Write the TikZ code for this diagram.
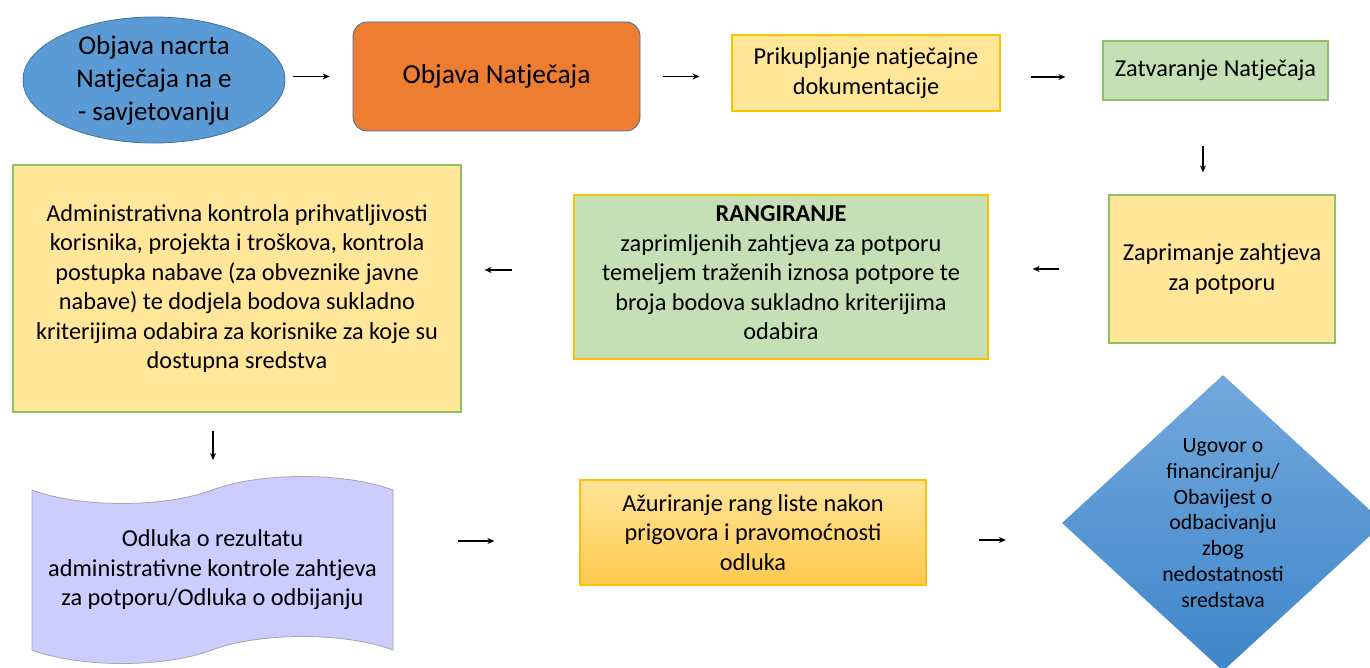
\documentclass[tikz,border=0pt]{standalone}
\usepackage{fontspec}
\setmainfont{Carlito}
\usetikzlibrary{shapes.geometric,arrows.meta,calc}
\definecolor{cblue}{HTML}{5B9BD5}
\definecolor{cblueb}{HTML}{41719C}
\definecolor{corange}{HTML}{ED7D31}
\definecolor{cyellow}{HTML}{FFE699}
\definecolor{cgold}{HTML}{FFC000}
\definecolor{cgreen}{HTML}{C5E0B4}
\definecolor{cgreenb}{HTML}{8CC168}
\definecolor{clav}{HTML}{CCCCFF}
\definecolor{cgray}{HTML}{A6A6A6}
\definecolor{caztop}{HTML}{FFE497}
\definecolor{cazbot}{HTML}{FFC94F}
\definecolor{cdtop}{HTML}{72A8DD}
\definecolor{cdbot}{HTML}{3F86C9}
\tikzset{
  boxtxt/.style={align=center,font=\fontsize{24.3}{29.5}\selectfont,inner sep=0pt},
  box/.style={rectangle,boxtxt,line width=1.2pt},
  arr/.style={-{Stealth[length=7pt,width=6pt]},line width=1.1pt,black},
}
\begin{document}
\begin{tikzpicture}[x=1pt,y=-1pt]
\useasboundingbox (0,0) rectangle (1370,668);
\fill[white] (0,0) rectangle (1370,668);
% row 1
\node[ellipse,fill=cblue,draw=cblueb,line width=0.8pt,minimum width=262,minimum height=126,inner sep=0pt] (ell) at (154,80) {};
\node[align=center,inner sep=0pt,font=\fontsize{27}{33}\selectfont] (ellt) at (154,80) {Objava nacrta\\Natječaja na e\\- savjetovanju};
\node[box,fill=corange,draw=cblueb,line width=0.8pt,rounded corners=14pt,minimum width=287,minimum height=109,font=\fontsize{27.5}{33}\selectfont] (pub) at (496.5,76.5) {Objava Natječaja};
\node[box,fill=cyellow,draw=cgold,minimum width=268,minimum height=76] (prik) at (866,73) {Prikupljanje natječajne\\dokumentacije};
\node[box,fill=cgreen,draw=cgreenb,minimum width=225,minimum height=59] (zatv) at (1215.5,70.5) {Zatvaranje Natječaja};
% row 2
\node[box,fill=cyellow,draw=cgreenb,minimum width=226,minimum height=148] (zapr) at (1222,269) {Zaprimanje zahtjeva\\za potporu};
\node[box,fill=cgreen,draw=cgold,minimum width=414,minimum height=164] (rang) at (781,277) {};
\node[boxtxt] (rangt) at (781,273) {\textbf{RANGIRANJE}\\zaprimljenih zahtjeva za potporu\\temeljem traženih iznosa potpore te\\broja bodova sukladno kriterijima\\odabira};
\node[box,fill=cyellow,draw=cgreenb,minimum width=448,minimum height=247] (adm) at (237,288.5) {Administrativna kontrola prihvatljivosti\\korisnika, projekta i troškova, kontrola\\postupka nabave (za obveznike javne\\nabave) te dodjela bodova sukladno\\kriterijima odabira za korisnike za koje su\\dostupna sredstva};
% row 3
\fill[clav,draw=cgray,line width=0.8pt] (32,490) .. controls (80,508) and (164,508) .. (212,490) .. controls (260,472) and (345,472) .. (393,490) -- (393,650) .. controls (345,632) and (260,632) .. (212,650) .. controls (164,668) and (80,668) .. (32,650) -- cycle;
\node[boxtxt,minimum width=361,minimum height=160] (odl) at (212.5,570) {Odluka o rezultatu\\administrativne kontrole zahtjeva\\za potporu/Odluka o odbijanju};
\node[box,top color=caztop,bottom color=cazbot,draw=cgold,minimum width=346,minimum height=105] (azu) at (753,532.5) {Ažuriranje rang liste nakon\\prigovora i pravomoćnosti\\odluka};
\node[diamond,top color=cdtop,bottom color=cdbot,draw=none,minimum width=322,minimum height=296,inner sep=0pt,align=center,font=\fontsize{21.8}{25.8}\selectfont] (dia) at (1223,523) {Ugovor o\\financiranju/\\Obavijest o\\odbacivanju\\zbog\\nedostatnosti\\sredstava};
% arrows
\draw[arr,shorten <=8pt,shorten >=23pt] (ell.east |- pub.west) -- (pub.west);
\draw[arr,shorten <=23pt,shorten >=32pt] (pub.east) -- (pub.east -| prik.west);
\draw[arr,shorten <=30pt,shorten >=37pt] ([yshift=-4pt]prik.east) -- ([yshift=-4pt]prik.east -| zatv.west);
\draw[arr,shorten <=45pt,shorten >=22pt] ([xshift=-12.5pt]zatv.south) -- ([xshift=-12.5pt]zatv.south |- zapr.north);
\draw[arr,shorten <=49pt,shorten >=44pt] (zapr.west) -- (zapr.west -| rang.east);
\draw[arr,shorten <=61pt,shorten >=23pt] ([yshift=7pt]rang.west) -- ([yshift=7pt]rang.west -| adm.east);
\draw[arr,shorten <=18pt,shorten >=18pt] ([xshift=-24pt]adm.south) -- ([xshift=-24pt]adm.south |- 0,478);
\draw[arr,shorten <=65pt,shorten >=85pt] ([yshift=29pt]odl.east) -- ([yshift=29pt]odl.east -| azu.west);
\draw[arr,shorten <=52pt,shorten >=56pt] ([yshift=-7.5pt]azu.east) -- ([yshift=-7.5pt]azu.east -| dia.west);
\end{tikzpicture}
\end{document}
